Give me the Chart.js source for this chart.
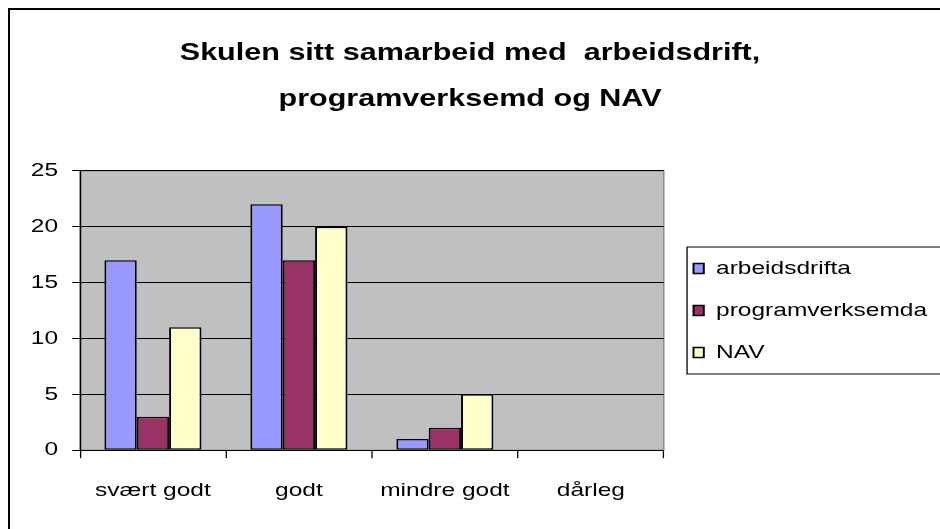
<!DOCTYPE html>
<html>
<head>
<meta charset="utf-8">
<title>Skulen sitt samarbeid</title>
<script src="https://cdn.jsdelivr.net/npm/chart.js@4"></script>
<style>
  html, body { margin: 0; padding: 0; background: #fff; }
  #wrap { position: relative; width: 940px; height: 529px; overflow: hidden; }
  #frame { position: absolute; left: 8px; top: 8px; width: 1000px; height: 600px; border: 2px solid #000; box-sizing: border-box; }
  canvas { position: absolute; left: 0; top: 0; }
</style>
</head>
<body>
<div id="wrap">
  <canvas id="myChart" width="729" height="529"></canvas>
  <div id="frame"></div>
</div>
<script>
let categories = ["svært godt", "godt", "mindre godt", "dårleg"];
let seriesNames = ["arbeidsdrifta", "programverksemda", "NAV"];
let arbeidsdrifta = [17, 22, 1, 0];
let programverksemda = [3, 17, 2, 0];
let nav = [11, 20, 5, 0];
let yTicks = [0, 5, 10, 15, 20, 25];

let titleLines = ["Skulen sitt samarbeid med  arbeidsdrift,", "programverksemd og NAV"];
let font = "'Liberation Sans', Arial, sans-serif";

// grey plot area like the old excel charts
const plotBackground = {
  id: "plotBackground",
  beforeDraw(chart) {
    let ctx = chart.ctx;
    let a = chart.chartArea;
    ctx.save();
    ctx.fillStyle = "#c0c0c0";
    ctx.fillRect(a.left, a.top, a.right - a.left, a.bottom - a.top);
    ctx.strokeStyle = "#808080";
    ctx.lineWidth = 1;
    ctx.strokeRect(a.left, a.top, a.right - a.left, a.bottom - a.top);
    ctx.restore();
  }
};

// frame round the legend, it runs off the right edge
const legendFrame = {
  id: "legendFrame",
  afterDraw(chart) {
    let boxes = chart.legend.legendHitBoxes;
    if (!boxes || !boxes.length) return;
    let first = boxes[0];
    let last = boxes[boxes.length - 1];
    let x = first.left - 5;
    let y = first.top - 12;
    let h = last.top + last.height + 12 - y;
    let ctx = chart.ctx;
    ctx.save();
    ctx.strokeStyle = "#000";
    ctx.lineWidth = 1;
    ctx.strokeRect(x, y, chart.width, h);
    ctx.restore();
  }
};

let ctx = document.getElementById("myChart").getContext("2d");

let myChart = new Chart(ctx, {
  type: "bar",
  data: {
    labels: categories,
    datasets: [
      { label: seriesNames[0], data: arbeidsdrifta, backgroundColor: "#9999ff" },
      { label: seriesNames[1], data: programverksemda, backgroundColor: "#993366" },
      { label: seriesNames[2], data: nav, backgroundColor: "#ffffcc" }
    ]
  },
  options: {
    responsive: false,
    animation: false,
    devicePixelRatio: 1,
    layout: { padding: { left: 0, right: 0, top: 0, bottom: 6 } },
    datasets: {
      bar: {
        categoryPercentage: 0.665,
        barPercentage: 1,
        borderColor: "#000",
        borderWidth: 1.5,
        borderSkipped: false
      }
    },
    plugins: {
      title: {
        display: true,
        text: titleLines,
        color: "#000",
        font: { family: font, size: 23.7, weight: "bold", lineHeight: 1.98 },
        padding: { top: 29.5, bottom: 47.5 }
      },
      legend: {
        position: "right",
        fullSize: false,
        align: "center",
        maxWidth: 260,
        labels: {
          color: "#000",
          font: { family: font, size: 19 },
          boxWidth: 8,
          boxHeight: 10,
          padding: 23
        }
      },
      tooltip: { enabled: false }
    },
    scales: {
      x: {
        grid: {
          offset: true,
          drawOnChartArea: false,
          drawTicks: true,
          tickLength: 8,
          color: "#000"
        },
        border: { color: "#000", width: 1 },
        ticks: {
          color: "#000",
          font: { family: font, size: 19 },
          padding: 21,
          maxRotation: 0,
          autoSkip: false
        }
      },
      y: {
        min: yTicks[0],
        max: yTicks[yTicks.length - 1],
        afterFit(scale) {
          scale.width = 62;
        },
        grid: {
          color: "#000",
          lineWidth: 1,
          tickLength: 6
        },
        border: { color: "#000", width: 1 },
        ticks: {
          stepSize: yTicks[1] - yTicks[0],
          color: "#000",
          font: { family: font, size: 19 },
          padding: 11
        }
      }
    }
  },
  plugins: [plotBackground, legendFrame]
});

// the picture is stretched sideways, so draw the chart wider than it is tall
let stretch = 940 / 729;
let canvas = document.getElementById("myChart");
canvas.width = 940;
canvas.height = 529;
canvas.style.width = "940px";
canvas.style.height = "529px";
myChart.ctx.setTransform(stretch, 0, 0, 1, 0, 0);
myChart.draw();
</script>
</body>
</html>
